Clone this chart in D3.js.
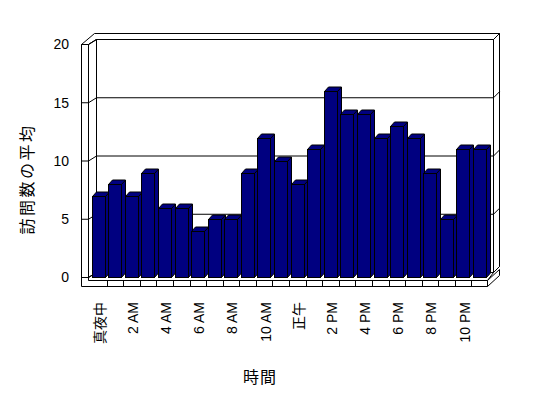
<!DOCTYPE html>
<html>
<head>
<meta charset="utf-8">
<script src="https://cdn.jsdelivr.net/npm/d3@7"></script>
<style>
  html, body { margin: 0; padding: 0; background: #fff; }
  svg { display: block; }
  text { font-family: "Liberation Sans", Arial, "Noto Sans CJK JP", sans-serif; fill: #000; }
</style>
</head>
<body>
<svg id="chart" width="548" height="398"></svg>
<script>
// ---- data ----
const categories = ["真夜中","1 AM","2 AM","3 AM","4 AM","5 AM","6 AM","7 AM","8 AM","9 AM","10 AM","11 AM",
                    "正午","1 PM","2 PM","3 PM","4 PM","5 PM","6 PM","7 PM","8 PM","9 PM","10 PM","11 PM"];
const values = [7, 8, 7, 9, 6, 6, 4, 5, 5, 9, 12, 10, 8, 11, 16, 14, 14, 12, 13, 12, 9, 5, 11, 11];
const xTickLabels = ["真夜中","2 AM","4 AM","6 AM","8 AM","10 AM","正午","2 PM","4 PM","6 PM","8 PM","10 PM"];
const yTicks = [0, 5, 10, 15, 20];
const yTitle = "訪問数の平均";
const xTitle = "時間";

// ---- layout ----
const svg = d3.select("#chart");
const x = d3.scaleBand().domain(categories).range([90, 488]).padding(0);
const y = d3.scaleLinear().domain([0, 20]).range([277.5, 44.5]);

const wallL0 = 81.5, wallL1 = 88.5;      // left wall front face
const wdx = 8, wdy = -5;                 // offset to back wall front plane
const backR = 493.5, backOuterR = 499.5; // back wall right edges
const topOuter = 33.5;
const floorTop = 280.5, floorBot = 286.5, floorR = 487.5;
const barInset = 1.6, barW = 12.6, bdx = 4, bdy = -4.5;
const navy = "#000080";

const g = svg.append("g");
const line = (pts) => "M" + pts.map(p => p.join(",")).join("L") + "Z";
const poly = (pts) => g.append("path").attr("d", line(pts))
  .attr("fill", "#fff").attr("stroke", "#000").attr("stroke-width", 1);

const yb0 = y(0) + wdy; // back floor level
const yTop = y(20);

// back wall front face
poly([[wallL1 + wdx, yTop + wdy], [backR, yTop + wdy], [backR, yb0], [wallL1 + wdx, yb0]]);
// back wall right face
poly([[backR, yTop + wdy], [backOuterR, topOuter], [backOuterR, yb0 - 6], [backR, yb0]]);
// combined top of walls
poly([[wallL0, yTop], [wallL0 + 13, topOuter], [backOuterR, topOuter], [backR, yTop + wdy], [wallL1 + wdx, yTop + wdy], [wallL1, yTop]]);
// left wall inner face
poly([[wallL1, yTop], [wallL1 + wdx, yTop + wdy], [wallL1 + wdx, yb0], [wallL1, y(0)]]);
// floor top
poly([[wallL1, floorTop], [floorR, floorTop], [backR, yb0], [wallL1 + wdx, yb0], [wallL1, y(0)]]);
// floor right face
poly([[floorR, floorTop], [floorR, floorBot], [backOuterR, floorBot - 11], [backOuterR, floorTop - 11]]);
// left wall + floor front face (L shape)
poly([[wallL0, yTop], [wallL1, yTop], [wallL1, floorTop], [floorR, floorTop], [floorR, floorBot], [wallL0, floorBot]]);

// gridlines: front tick, diagonal on left wall, back wall line, stub on right face
yTicks.forEach(v => {
  const yf = y(v), ybk = y(v) + wdy;
  g.append("path")
    .attr("d", `M${wallL0},${yf}L${wallL1},${yf}L${wallL1 + wdx},${ybk}L${backR},${ybk}L${backOuterR},${ybk - 6}`)
    .attr("fill", "none").attr("stroke", "#000");
});

// floor category separators
categories.forEach((c, i) => {
  if (i === 0) return;
  const xs = Math.round(x(c)) + 0.5;
  g.append("line").attr("x1", xs).attr("x2", xs).attr("y1", floorTop).attr("y2", floorBot)
    .attr("stroke", "#000");
});

// bars
const bars = g.append("g");
categories.forEach((c, i) => {
  const v = values[i];
  const bx = Math.round(x(c) + barInset) + 0.5;
  const bx2 = bx + Math.round(barW);
  const yv = Math.round(y(v)) + 0.5, y0 = y(0);
  const bg = bars.append("g");
  bg.append("path").attr("d", line([[bx2, yv], [bx2 + bdx, yv + bdy], [bx2 + bdx, y0 + bdy], [bx2, y0]]))
    .attr("fill", navy).attr("stroke", "#000");
  bg.append("path").attr("d", line([[bx, yv], [bx + bdx, yv + bdy], [bx2 + bdx, yv + bdy], [bx2, yv]]))
    .attr("fill", navy).attr("stroke", "#000");
  bg.append("rect").attr("x", bx).attr("y", yv).attr("width", bx2 - bx).attr("height", y0 - yv)
    .attr("fill", navy).attr("stroke", "#000");
});

// y axis labels
const yAxis = d3.axisLeft(y).tickValues(yTicks).tickSize(0).tickPadding(3);
const yg = svg.append("g").attr("transform", "translate(72,0)").call(yAxis);
yg.select(".domain").remove();
yg.selectAll("text").attr("font-size", 14).style("font-family", "'Liberation Sans', Arial, sans-serif");

// x axis labels (every other hour)
const xAxis = d3.axisBottom(x).tickValues(xTickLabels).tickSize(0);
const xg = svg.append("g").attr("transform", "translate(1.5,0)").call(xAxis);
xg.select(".domain").remove();
xg.selectAll("text")
  .attr("transform", "rotate(-90)")
  .attr("x", -302).attr("y", 0).attr("dy", "0.35em")
  .attr("text-anchor", "end")
  .attr("font-size", 14)
  .style("font-family", "'Liberation Sans', Arial, 'Noto Sans CJK JP', sans-serif");

// titles
svg.append("text")
  .attr("transform", "translate(27,179) rotate(-90)")
  .attr("text-anchor", "middle").attr("dy", "0.35em")
  .attr("font-size", 16).attr("letter-spacing", "2.5px")
  .style("font-family", "'Noto Sans CJK JP', sans-serif")
  .text(yTitle);
svg.append("text")
  .attr("x", 260).attr("y", 377).attr("dy", "0.35em")
  .attr("text-anchor", "middle")
  .attr("font-size", 16).attr("letter-spacing", "1px")
  .style("font-family", "'Noto Sans CJK JP', sans-serif")
  .text(xTitle);
</script>
</body>
</html>
